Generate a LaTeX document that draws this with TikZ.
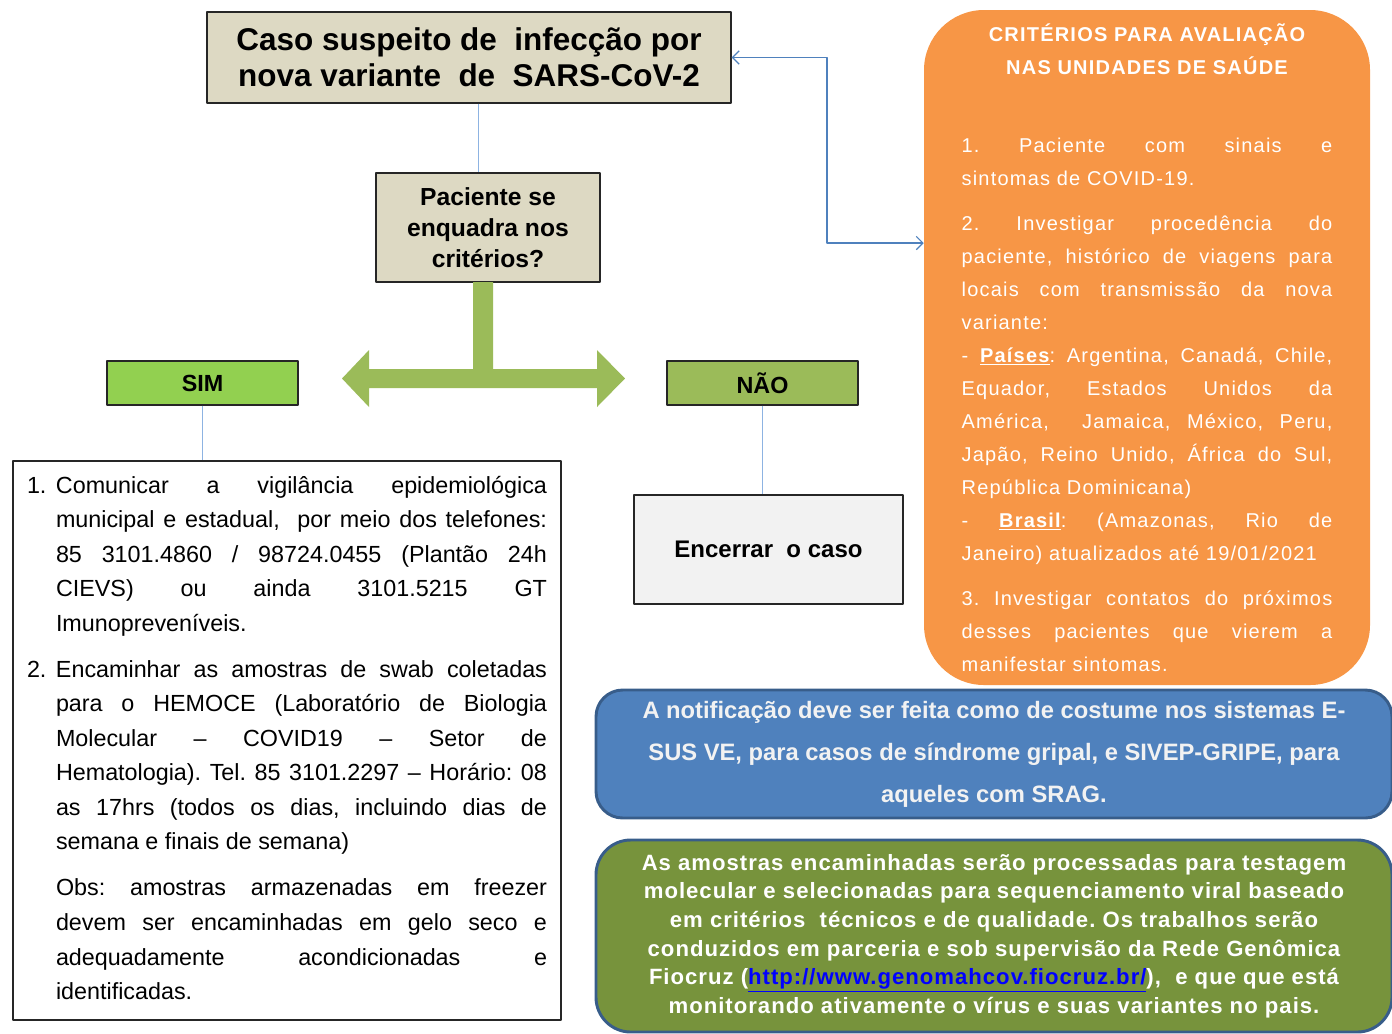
\documentclass[tikz,border=0pt]{standalone}
\usepackage{fontspec}
\setmainfont{Liberation Sans}
\newfontfamily\espacada[LetterSpace=6]{Liberation Sans}
\newfontfamily\aberta[LetterSpace=4.5]{Liberation Sans}
\usetikzlibrary{arrows.meta}
\definecolor{bege}{HTML}{DDD9C3}
\definecolor{verdesim}{HTML}{92D050}
\definecolor{verdenao}{HTML}{9BBB59}
\definecolor{laranja}{HTML}{F79646}
\definecolor{azul}{HTML}{4F81BD}
\definecolor{azulborda}{HTML}{385D8A}
\definecolor{azulclaro}{HTML}{8DB3E2}
\definecolor{oliva}{HTML}{77933C}
\definecolor{cinzaclaro}{HTML}{F2F2F2}
\definecolor{borda}{HTML}{262626}
\frenchspacing
\newcommand{\itemnum}[1]{\par\hangindent=21.75pt\hangafter=1\noindent\makebox[21.75pt][l]{#1}}
\begin{document}
\begin{tikzpicture}[x=0.75pt, y=-0.75pt, line join=round, >={Straight Barb[length=5pt,width=10pt]},
	caixa/.style={draw=borda, line width=0.9pt, inner sep=0pt, align=center},
	ligacao/.style={draw=azulclaro, line width=0.9pt},
	aviso/.style={draw=azulborda, line width=2.2pt, inner sep=0pt, minimum width=597pt, align=center}]
	\useasboundingbox (0,0) rectangle (1392,1033);
	\def\bx{473}\def\ex{493}\def\by{369}\def\ey{388}
	% caixas principais
	\node[caixa, fill=bege, minimum width=393pt, minimum height=68.25pt, font=\bfseries\fontsize{23.6}{27}\selectfont] (caso) at (469,57.5) {Caso suspeito de\ \ infecção por\\nova variante\ \ de\ \ SARS-CoV-2};
	\node[caixa, fill=bege, minimum width=168pt, minimum height=81.75pt, font=\bfseries\fontsize{18.5}{23.25}\selectfont] (paciente) at (488,227.5) {Paciente se\\enquadra nos\\critérios?};
	\node[caixa, fill=verdesim, minimum width=143.25pt, minimum height=33pt, font=\bfseries\fontsize{17.5}{21}\selectfont] (sim) at (202.5,383) {SIM};
	\node[caixa, fill=verdenao, minimum width=143.25pt, minimum height=33pt, font=\bfseries\fontsize{17.5}{21}\selectfont] (nao) at (762.5,383) {NÃO};
	\node[caixa, fill=cinzaclaro, minimum width=201.75pt, minimum height=81.75pt, font=\bfseries\fontsize{18}{22}\selectfont] (encerrar) at (768.5,549.5) {Encerrar\ \ o caso};
	\node[caixa, minimum width=411pt, minimum height=419.25pt, text width=390pt, align=justify, font=\fontsize{17.5}{25.9}\selectfont] (acoes) at (287,740.5) {\vspace*{-25.5pt}\setlength{\parskip}{8.6pt}%
		\itemnum{1.}Comunicar a vigilância epidemiológica\linebreak municipal e estadual,\ \ por meio dos telefones:\linebreak 85 3101.4860 / 98724.0455 (Plantão 24h\linebreak CIEVS) ou ainda 3101.5215 GT\linebreak Imunopreveníveis.
		\itemnum{2.}Encaminhar as amostras de swab coletadas\linebreak para o HEMOCE (Laboratório de Biologia\linebreak Molecular -- COVID19 -- Setor de\linebreak Hematologia). Tel. 85 3101.2297 -- Horário: 08\linebreak as 17hrs (todos os dias, incluindo dias de\linebreak semana e finais de semana)
		\itemnum{}Obs: amostras armazenadas em freezer\linebreak devem ser encaminhadas em gelo seco e\linebreak adequadamente acondicionadas e\linebreak identificadas.\par};
	\node[fill=laranja, rounded corners=45pt, inner sep=0pt, minimum width=334.5pt, minimum height=506.25pt, text width=278pt, align=justify, text=white, font=\espacada\fontsize{15}{24.75}\selectfont] (criterios) at (1147,347.5) {\setlength{\parskip}{9pt}%
		{\centering\bfseries CRITÉRIOS PARA AVALIAÇÃO\\NAS UNIDADES DE SAÚDE\par}\vspace{25pt}
		1. Paciente com sinais e\linebreak sintomas de COVID-19.\par
		2. Investigar procedência do\linebreak paciente, histórico de viagens para\linebreak locais com transmissão da nova\linebreak variante:\\
		- \textbf{\underline{Países}}: Argentina, Canadá, Chile,\linebreak Equador, Estados Unidos da\linebreak América,\ \ Jamaica, México, Peru,\linebreak Japão, Reino Unido, África do Sul,\linebreak República Dominicana)\\
		- \textbf{\underline{Brasil}}: (Amazonas, Rio de\linebreak Janeiro) atualizados até 19/01/2021\par
		3. Investigar contatos do próximos\linebreak desses pacientes que vierem a\linebreak manifestar sintomas.};
	% avisos
	\node[aviso, fill=azul, rounded corners=20pt, minimum height=96pt, text=cinzaclaro, font=\bfseries\fontsize{17.8}{31.5}\selectfont] (notificacao) at (994,754) {A notificação deve ser feita como de costume nos sistemas E-\\SUS VE, para casos de síndrome gripal, e SIVEP-GRIPE, para\\aqueles com SRAG.};
	\node[aviso, fill=oliva, rounded corners=26pt, minimum height=144pt, text=white, font=\aberta\bfseries\fontsize{16.6}{21.5}\selectfont] (fiocruz) at (994,936) {As amostras encaminhadas serão processadas para testagem\\molecular e selecionadas para sequenciamento viral baseado\\em critérios\ \ técnicos e de qualidade. Os trabalhos serão\\conduzidos em parceria e sob supervisão da Rede Genômica\\Fiocruz (\textcolor{blue}{\underline{http://www.genomahcov.fiocruz.br/}}),\ \ e que que está\\monitorando ativamente o vírus e suas variantes no pais.};
	% ligacoes
	\draw[ligacao] ([xshift=7pt]caso.south) -- ([xshift=7pt]caso.south |- paciente.north);
	\draw[ligacao] (sim.south) -- (sim.south |- acoes.north);
	\draw[ligacao] (nao.south) -- (nao.south |- encerrar.north);
	\coordinate (dobra) at (827,243);
	\draw[azul, line width=0.9pt, <->] (caso.east) -| (dobra) -- (dobra -| criterios.west);
	% seta verde dupla
	\fill[verdenao] (\bx,282) -- (\ex,282) -- (\ex,\by) -- (597,\by) -- (597,350) -- (625,378.5) -- (597,407) -- (597,\ey)
		-- (369,\ey) -- (369,407) -- (342,378.5) -- (369,350) -- (369,\by) -- (\bx,\by) -- cycle;
\end{tikzpicture}
\end{document}
